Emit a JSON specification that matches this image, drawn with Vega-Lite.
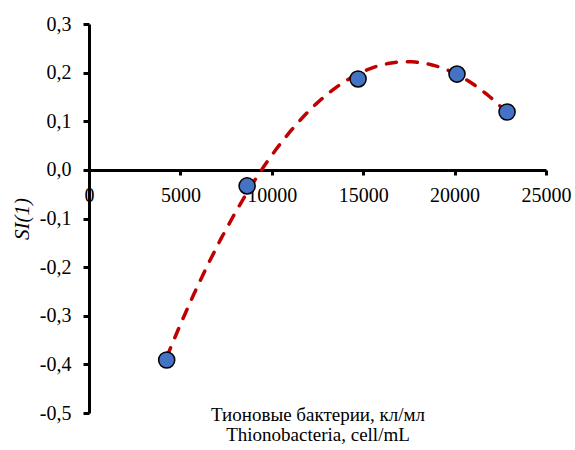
{
  "$schema": "https://vega.github.io/schema/vega-lite/v6.json",
  "width": 457,
  "height": 389,
  "autosize": "none",
  "padding": {"left": 89, "top": 24, "right": 29, "bottom": 37},
  "background": "white",
  "config": {
    "view": {"stroke": null},
    "font": "Times New Roman",
    "axis": {
      "grid": false,
      "domainColor": "black",
      "domainWidth": 3,
      "tickColor": "black",
      "tickWidth": 3,
      "labelFont": "Times New Roman",
      "labelColor": "black",
      "labelFontSize": 20,
      "labelFlush": false,
      "labelOverlap": false,
      "titleFont": "Times New Roman",
      "titleColor": "black",
      "titleFontWeight": "normal"
    }
  },
  "data": {
    "values": [
      {"x": 4250, "y": -0.391},
      {"x": 8650, "y": -0.033},
      {"x": 14720, "y": 0.187},
      {"x": 20130, "y": 0.197},
      {"x": 22870, "y": 0.119}
    ]
  },
  "layer": [
    {
      "transform": [{"regression": "y", "on": "x", "method": "poly", "order": 2}],
      "mark": {"type": "line", "color": "#C00000", "strokeWidth": 3.5, "strokeDash": [10, 11], "strokeCap": "round"},
      "encoding": {
        "x": {"field": "x", "type": "quantitative"},
        "y": {"field": "y", "type": "quantitative"}
      }
    },
    {
      "mark": {"type": "point", "shape": "circle", "filled": true, "fill": "#4472C4", "stroke": "black", "strokeWidth": 1.5, "size": 260, "opacity": 1},
      "encoding": {
        "x": {
          "field": "x", "type": "quantitative",
          "scale": {"domain": [0, 25000], "nice": false, "zero": false},
          "axis": {
            "orient": "bottom",
            "offset": -243,
            "values": [0, 5000, 10000, 15000, 20000, 25000],
            "format": "d",
            "tickSize": 5,
            "labelPadding": 10,
            "title": ["Тионовые бактерии, кл/мл", "Thionobacteria, cell/mL"],
            "titleFontSize": 19,
            "titleLineHeight": 20,
            "titleBaseline": "top",
            "titleY": 235
          }
        },
        "y": {
          "field": "y", "type": "quantitative",
          "scale": {"domain": [-0.5, 0.3], "nice": false, "zero": false},
          "axis": {
            "values": [-0.5, -0.4, -0.3, -0.2, -0.1, 0, 0.1, 0.2, 0.3],
            "labelExpr": "(datum.value < -0.00001 ? '-' : '') + replace(format(abs(datum.value), '.1f'), '.', ',')",
            "tickSize": 6,
            "labelPadding": 12,
            "title": "SI(1)",
            "titleFontSize": 21,
            "titleFontStyle": "italic",
            "titleX": -67,
            "titleAngle": -90,
            "titleBaseline": "middle",
            "titleAlign": "center"
          }
        }
      }
    }
  ]
}
